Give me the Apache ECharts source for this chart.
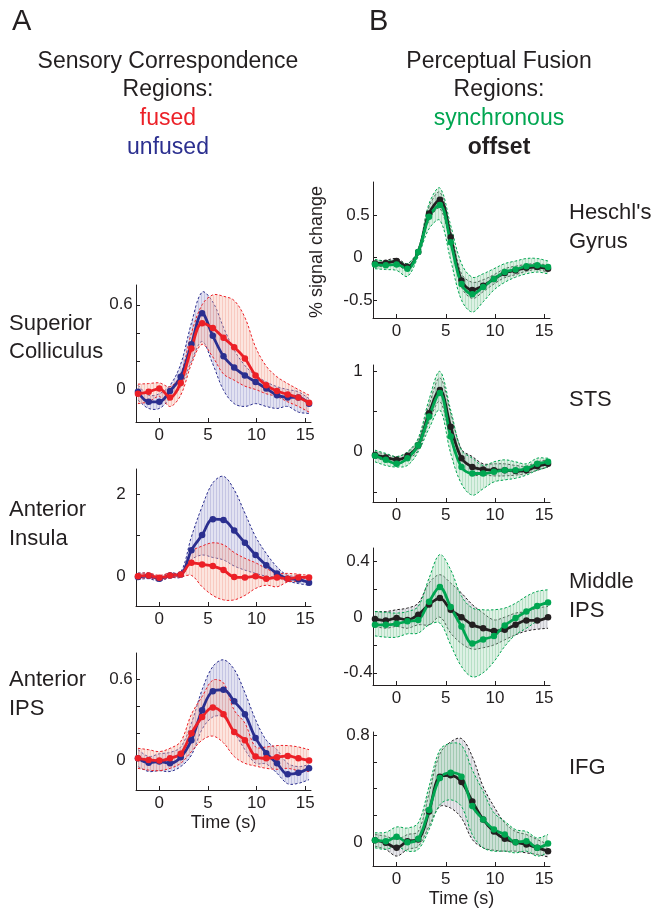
<!DOCTYPE html>
<html>
<head>
<meta charset="utf-8">
<script src="https://cdn.jsdelivr.net/npm/echarts@6/dist/echarts.min.js"></script>
<style>
html, body { margin: 0; padding: 0; background: #fff; }
#chart { width: 659px; height: 909px; }
</style>
</head>
<body>
<div id="chart"></div>
<script>
// time of each sample (s)
var times = [-2.2, -1.1, 0, 1.1, 2.2, 3.3, 4.4, 5.5, 6.6, 7.7, 8.8, 9.9, 11, 12.1, 13.2, 14.3, 15.4];
var xTicks = [0, 5, 10, 15];

// A: Superior Colliculus
var scFused     = [-0.03, -0.016, 0.007, -0.056, 0.047, 0.29, 0.47, 0.435, 0.367, 0.30, 0.22, 0.10, 0.03, -0.01, -0.035, -0.056, -0.094];
var scFusedHi   = [0.038, 0.042, 0.047, 0.02, 0.11, 0.4, 0.6, 0.67, 0.66, 0.63, 0.51, 0.3, 0.165, 0.09, 0.042, 0.0, -0.04];
var scFusedLo   = [-0.10, -0.087, -0.05, -0.12, -0.04, 0.18, 0.32, 0.23, 0.11, 0.066, 0.024, 0.0, -0.03, -0.05, -0.087, -0.12, -0.16];
var scUnfused   = [-0.016, -0.087, -0.087, -0.01, 0.09, 0.32, 0.54, 0.38, 0.235, 0.155, 0.10, 0.054, 0.007, -0.04, -0.056, -0.056, -0.1];
var scUnfusedHi = [0.03, -0.04, -0.03, 0.03, 0.18, 0.47, 0.69, 0.62, 0.44, 0.28, 0.17, 0.10, 0.054, 0.02, 0.0, -0.016, -0.064];
var scUnfusedLo = [-0.075, -0.134, -0.134, -0.064, 0.02, 0.2, 0.34, 0.18, -0.005, -0.1, -0.12, -0.10, -0.12, -0.134, -0.12, -0.16, -0.17];

// A: Anterior Insula
var aiFused     = [0, 0.02, -0.04, 0.02, 0.04, 0.33, 0.29, 0.25, 0.15, -0.02, -0.03, 0, -0.06, -0.03, -0.06, -0.03, -0.03];
var aiFusedHi   = [0.07, 0.08, 0.02, 0.08, 0.08, 0.6, 0.74, 0.82, 0.77, 0.58, 0.44, 0.33, 0.19, 0.07, 0.07, 0.05, 0.02];
var aiFusedLo   = [-0.07, -0.03, -0.1, -0.03, -0.02, 0.02, -0.26, -0.47, -0.58, -0.58, -0.47, -0.3, -0.22, -0.26, -0.14, -0.12, -0.1];
var aiUnfused   = [-0.02, 0.01, -0.06, 0.02, 0.04, 0.64, 1.01, 1.40, 1.38, 1.12, 0.82, 0.52, 0.27, 0.07, -0.06, -0.08, -0.16];
var aiUnfusedHi = [0.08, 0.07, 0, 0.08, 0.1, 0.97, 1.71, 2.29, 2.45, 2.12, 1.55, 0.97, 0.56, 0.23, 0.02, 0, -0.1];
var aiUnfusedLo = [-0.08, -0.06, -0.12, -0.03, -0.02, 0.4, 0.52, 0.46, 0.4, 0.25, 0.15, 0.07, 0, -0.03, -0.12, -0.18, -0.22];

// A: Anterior IPS
var ipsFused     = [0.017, 0.005, 0, 0.017, 0.05, 0.2, 0.32, 0.39, 0.34, 0.21, 0.15, 0.03, 0.017, 0.025, 0.034, 0.017, 0];
var ipsFusedHi   = [0.09, 0.08, 0.066, 0.09, 0.14, 0.34, 0.47, 0.59, 0.57, 0.37, 0.275, 0.1, 0.1, 0.11, 0.11, 0.1, 0.08];
var ipsFusedLo   = [-0.057, -0.07, -0.074, -0.057, -0.02, 0.066, 0.15, 0.18, 0.13, 0.03, -0.02, -0.04, -0.057, -0.064, -0.057, -0.074, -0.08];
var ipsUnfused   = [0.017, -0.015, -0.007, -0.02, 0.025, 0.15, 0.37, 0.51, 0.52, 0.435, 0.34, 0.165, 0.054, -0.02, -0.1, -0.09, -0.057];
var ipsUnfusedHi = [0.08, 0.03, 0.05, 0.06, 0.1, 0.275, 0.52, 0.69, 0.74, 0.67, 0.5, 0.3, 0.15, 0.08, -0.02, -0.044, -0.03];
var ipsUnfusedLo = [-0.044, -0.08, -0.074, -0.08, -0.044, 0.04, 0.23, 0.32, 0.32, 0.21, 0.08, -0.02, -0.025, -0.093, -0.17, -0.167, -0.14];

// B: Heschl's Gyrus
var hgSync   = [-0.08, -0.09, -0.08, -0.13, 0.067, 0.48, 0.62, 0.18, -0.31, -0.43, -0.345, -0.25, -0.17, -0.14, -0.10, -0.09, -0.11];
var hgSyncHi = [-0.02, -0.04, -0.03, -0.07, 0.1, 0.635, 0.82, 0.38, -0.07, -0.23, -0.19, -0.13, -0.07, -0.04, -0.01, -0.01, -0.04];
var hgSyncLo = [-0.13, -0.14, -0.15, -0.22, 0.016, 0.34, 0.44, -0.03, -0.5, -0.64, -0.52, -0.38, -0.29, -0.23, -0.19, -0.17, -0.19];
var hgOff    = [-0.07, -0.063, -0.04, -0.11, 0.067, 0.52, 0.68, 0.24, -0.27, -0.38, -0.33, -0.25, -0.18, -0.15, -0.12, -0.11, -0.13];
var hgOffHi  = [-0.04, -0.03, -0.01, -0.07, 0.086, 0.6, 0.77, 0.32, -0.19, -0.29, -0.26, -0.2, -0.13, -0.1, -0.08, -0.07, -0.09];
var hgOffLo  = [-0.11, -0.1, -0.08, -0.15, 0.04, 0.44, 0.58, 0.145, -0.345, -0.48, -0.4, -0.31, -0.235, -0.2, -0.16, -0.14, -0.17];

// B: STS
var stsSync   = [-0.05, -0.1, -0.15, -0.08, 0.08, 0.44, 0.73, 0.19, -0.19, -0.27, -0.27, -0.25, -0.23, -0.23, -0.21, -0.15, -0.125];
var stsSyncHi = [0.02, -0.02, -0.06, 0, 0.17, 0.65, 1.0, 0.52, 0.02, -0.08, -0.17, -0.125, -0.1, -0.125, -0.15, -0.08, -0.08];
var stsSyncLo = [-0.125, -0.17, -0.19, -0.17, 0, 0.29, 0.52, -0.02, -0.4, -0.54, -0.46, -0.375, -0.35, -0.33, -0.29, -0.23, -0.19];
var stsOff    = [-0.04, -0.07, -0.1, -0.05, 0.08, 0.48, 0.77, 0.31, -0.08, -0.19, -0.22, -0.23, -0.23, -0.24, -0.23, -0.18, -0.15];
var stsOffHi  = [0, -0.03, -0.06, -0.01, 0.15, 0.58, 0.92, 0.48, 0.03, -0.06, -0.15, -0.15, -0.15, -0.17, -0.18, -0.125, -0.1];
var stsOffLo  = [-0.08, -0.11, -0.15, -0.1, 0.02, 0.375, 0.625, 0.15, -0.19, -0.29, -0.29, -0.3, -0.3, -0.29, -0.27, -0.23, -0.19];

// B: Middle IPS
var mipsSync   = [-0.055, -0.055, -0.048, -0.03, -0.02, 0.11, 0.216, 0.072, -0.067, -0.19, -0.16, -0.135, -0.06, -0.007, 0.04, 0.08, 0.106];
var mipsSyncHi = [0.04, 0.034, 0.029, 0.04, 0.077, 0.28, 0.45, 0.34, 0.15, 0.065, 0.053, 0.053, 0.065, 0.1, 0.15, 0.185, 0.197];
var mipsSyncLo = [-0.135, -0.144, -0.144, -0.12, -0.115, -0.055, -0.043, -0.2, -0.356, -0.43, -0.4, -0.32, -0.21, -0.127, -0.08, -0.03, -0.007];
var mipsOff    = [-0.014, -0.024, -0.007, -0.02, 0.017, 0.09, 0.137, 0.053, 0, -0.055, -0.08, -0.1, -0.09, -0.055, -0.024, -0.024, 0];
var mipsOffHi  = [0.04, 0.04, 0.053, 0.065, 0.1, 0.245, 0.305, 0.245, 0.173, 0.09, 0.029, -0.02, 0, 0.029, 0.04, 0.065, 0.077];
var mipsOffLo  = [-0.067, -0.08, -0.067, -0.08, -0.055, -0.055, 0, -0.115, -0.19, -0.23, -0.22, -0.2, -0.163, -0.127, -0.1, -0.087, -0.08];

// B: IFG
var ifgSync   = [0.015, 0.007, 0.04, 0, 0.025, 0.24, 0.48, 0.52, 0.49, 0.27, 0.17, 0.094, 0.057, 0, 0.007, -0.042, -0.01];
var ifgSyncHi = [0.07, 0.074, 0.114, 0.106, 0.144, 0.416, 0.69, 0.74, 0.725, 0.54, 0.38, 0.22, 0.156, 0.094, 0.08, 0.032, 0.057];
var ifgSyncLo = [-0.042, -0.054, -0.03, -0.067, -0.054, 0.094, 0.28, 0.317, 0.267, 0.057, -0.042, -0.067, -0.067, -0.08, -0.067, -0.104, -0.08];
var ifgOff    = [0.015, -0.005, -0.042, 0.007, 0.02, 0.23, 0.49, 0.5, 0.45, 0.305, 0.17, 0.08, 0.025, 0, -0.017, -0.042, -0.067];
var ifgOffHi  = [0.057, 0.045, 0.02, 0.057, 0.08, 0.366, 0.66, 0.75, 0.775, 0.64, 0.416, 0.267, 0.144, 0.08, 0.057, 0.02, -0.017];
var ifgOffLo  = [-0.03, -0.054, -0.104, -0.054, -0.03, 0.12, 0.267, 0.255, 0.18, 0.02, -0.042, -0.06, -0.067, -0.067, -0.08, -0.092, -0.11];

var FONT = '"Liberation Sans", Arial, Helvetica, sans-serif';
var INK = '#231f20';
var RED = '#ec2027', BLUE = '#2b2f8f', GREEN = '#00a651', BLACK = '#231f20';

// striped fill like the hatched bands in the figure
function stripes(base, line) {
    var c = document.createElement('canvas');
    c.width = 3; c.height = 4;
    var ctx = c.getContext('2d');
    ctx.fillStyle = base;
    ctx.fillRect(0, 0, 3, 4);
    ctx.fillStyle = line;
    ctx.fillRect(0, 0, 1, 4);
    return { image: c, repeat: 'repeat' };
}
var fillRed = stripes('rgba(247,180,160,0.34)', 'rgba(240,150,135,0.34)');
var fillBlue = stripes('rgba(170,170,215,0.34)', 'rgba(140,140,200,0.34)');
var fillGreen = stripes('rgba(160,215,180,0.36)', 'rgba(110,190,140,0.34)');
var fillBlack = stripes('rgba(180,180,190,0.34)', 'rgba(150,150,160,0.34)');

// panel layout: grid box, y range, ticks, labels, and the two conditions (drawn in order)
var panels = [
    { grid: {left: 136, top: 285, width: 175, height: 137}, y: [-0.23, 0.74], ticks: [0, 0.2, 0.4, 0.6], labels: [0, 0.6],
      conds: [[scUnfused, scUnfusedHi, scUnfusedLo, BLUE, fillBlue], [scFused, scFusedHi, scFusedLo, RED, fillRed]] },
    { grid: {left: 136, top: 469, width: 175, height: 137}, y: [-0.73, 2.63], ticks: [0, 1, 2], labels: [0, 2],
      conds: [[aiUnfused, aiUnfusedHi, aiUnfusedLo, BLUE, fillBlue], [aiFused, aiFusedHi, aiFusedLo, RED, fillRed]] },
    { grid: {left: 136, top: 653, width: 175, height: 137}, y: [-0.216, 0.79], ticks: [0, 0.2, 0.4, 0.6], labels: [0, 0.6], xname: true,
      conds: [[ipsUnfused, ipsUnfusedHi, ipsUnfusedLo, BLUE, fillBlue], [ipsFused, ipsFusedHi, ipsFusedLo, RED, fillRed]] },
    { grid: {left: 373, top: 182, width: 177, height: 136}, y: [-0.71, 0.89], ticks: [-0.5, 0, 0.5], labels: [-0.5, 0, 0.5],
      conds: [[hgOff, hgOffHi, hgOffLo, BLACK, fillBlack], [hgSync, hgSyncHi, hgSyncLo, GREEN, fillGreen]] },
    { grid: {left: 373, top: 365, width: 177, height: 137}, y: [-0.625, 1.08], ticks: [-0.5, 0, 0.5, 1], labels: [0, 1],
      conds: [[stsOff, stsOffHi, stsOffLo, BLACK, fillBlack], [stsSync, stsSyncHi, stsSyncLo, GREEN, fillGreen]] },
    { grid: {left: 373, top: 548, width: 177, height: 137}, y: [-0.488, 0.497], ticks: [-0.4, -0.2, 0, 0.2, 0.4], labels: [-0.4, 0, 0.4],
      conds: [[mipsOff, mipsOffHi, mipsOffLo, BLACK, fillBlack], [mipsSync, mipsSyncHi, mipsSyncLo, GREEN, fillGreen]] },
    { grid: {left: 373, top: 732, width: 177, height: 135}, y: [-0.178, 0.824], ticks: [0, 0.2, 0.4, 0.6, 0.8], labels: [0, 0.8], xname: true,
      conds: [[ifgOff, ifgOffHi, ifgOffLo, BLACK, fillBlack], [ifgSync, ifgSyncHi, ifgSyncLo, GREEN, fillGreen]] }
];

var SMOOTH = 0.35;

function pairs(vals) {
    return times.map(function (t, i) { return [t, vals[i]]; });
}

// band = hatched fill between hi and lo plus dashed edges, drawn with the axes' own coord()
function bandSeries(idx, hi, lo, color, fill) {
    return {
        type: 'custom', xAxisIndex: idx, yAxisIndex: idx, silent: true, z: 1,
        data: times.map(function (t, i) { return [t, lo[i], hi[i]]; }),
        encode: {x: 0, y: [1, 2]},
        renderItem: function (params, api) {
            if (params.dataIndex !== 0) return null;
            var n = times.length, up = [], down = [];
            for (var i = 0; i < n; i++) {
                up.push(api.coord([times[i], hi[i]]));
                down.push(api.coord([times[i], lo[i]]));
            }
            // doubled end points keep the corners of the smoothed outline sharp
            var upEdge = [up[0]].concat(up, [up[n - 1]]);
            var downEdge = [down[0]].concat(down, [down[n - 1]]);
            var outline = upEdge.concat(downEdge.slice().reverse());
            var dash = {stroke: color, lineWidth: 1, lineDash: [2.5, 2], fill: null};
            return {
                type: 'group',
                children: [
                    {type: 'polygon', shape: {points: outline, smooth: SMOOTH}, style: {fill: fill, stroke: null}},
                    {type: 'polyline', shape: {points: upEdge, smooth: SMOOTH}, style: dash},
                    {type: 'polyline', shape: {points: downEdge, smooth: SMOOTH}, style: dash}
                ]
            };
        }
    };
}

var grids = [], xAxes = [], yAxes = [], series = [];

panels.forEach(function (p, idx) {
    grids.push(p.grid);
    xAxes.push({
        gridIndex: idx, type: 'value', min: -2.4, max: 15.6,
        name: p.xname ? 'Time (s)' : '', nameLocation: 'middle', nameGap: 24,
        nameTextStyle: {fontFamily: FONT, fontSize: 18, color: INK},
        axisLine: {show: true, onZero: false, lineStyle: {color: INK, width: 1}},
        axisTick: {show: true, inside: true, length: 4, customValues: xTicks, lineStyle: {color: INK}},
        axisLabel: {customValues: xTicks, fontFamily: FONT, fontSize: 17, color: INK, margin: 5},
        splitLine: {show: false}
    });
    yAxes.push({
        gridIndex: idx, type: 'value', min: p.y[0], max: p.y[1],
        axisLine: {show: true, onZero: false, lineStyle: {color: INK, width: 1}},
        axisTick: {show: true, inside: true, length: 4, customValues: p.ticks, lineStyle: {color: INK}},
        axisLabel: {customValues: p.labels, fontFamily: FONT, fontSize: 17, color: INK, margin: 15, align: 'center'},
        splitLine: {show: false}
    });

    p.conds.forEach(function (c) {
        series.push(bandSeries(idx, c[1], c[2], c[3], c[4]));
    });
    p.conds.forEach(function (c) {
        series.push({
            type: 'line', xAxisIndex: idx, yAxisIndex: idx, data: pairs(c[0]),
            smooth: SMOOTH, symbol: 'circle', symbolSize: 6.5, z: 3,
            lineStyle: {color: c[3], width: 2.8},
            itemStyle: {color: c[3]}
        });
    });
});

function txt(x, y, s, size, color, align, weight) {
    return {
        type: 'text', x: x, y: y, silent: true,
        style: {text: s, fontFamily: FONT, fontSize: size, fontWeight: weight || 'normal',
                fill: color || INK, align: align || 'left', verticalAlign: 'middle'}
    };
}

var graphics = [
    txt(12, 22, 'A', 29),
    txt(369, 22, 'B', 29),
    txt(168, 62, 'Sensory Correspondence', 23, INK, 'center'),
    txt(168, 90, 'Regions:', 23, INK, 'center'),
    txt(168, 119, 'fused', 23, RED, 'center'),
    txt(168, 148, 'unfused', 23, BLUE, 'center'),
    txt(499, 62, 'Perceptual Fusion', 23, INK, 'center'),
    txt(499, 90, 'Regions:', 23, INK, 'center'),
    txt(499, 119, 'synchronous', 23, GREEN, 'center'),
    txt(499, 148, 'offset', 23, INK, 'center', 'bold'),
    txt(9, 324, 'Superior', 22),
    txt(9, 352, 'Colliculus', 22),
    txt(9, 510, 'Anterior', 22),
    txt(9, 539, 'Insula', 22),
    txt(9, 680, 'Anterior', 22),
    txt(9, 709, 'IPS', 22),
    txt(569, 213, "Heschl's", 22),
    txt(569, 242, 'Gyrus', 22),
    txt(569, 400, 'STS', 22),
    txt(569, 582, 'Middle', 22),
    txt(569, 611, 'IPS', 22),
    txt(569, 768, 'IFG', 22)
];
var ylab = txt(317, 252, '% signal change', 18, INK, 'center');
ylab.rotation = Math.PI / 2;
graphics.push(ylab);

var chart = echarts.init(document.getElementById('chart'), null, {renderer: 'canvas'});
chart.setOption({
    animation: false,
    backgroundColor: '#fff',
    grid: grids,
    xAxis: xAxes,
    yAxis: yAxes,
    series: series,
    graphic: graphics
});
</script>
</body>
</html>
